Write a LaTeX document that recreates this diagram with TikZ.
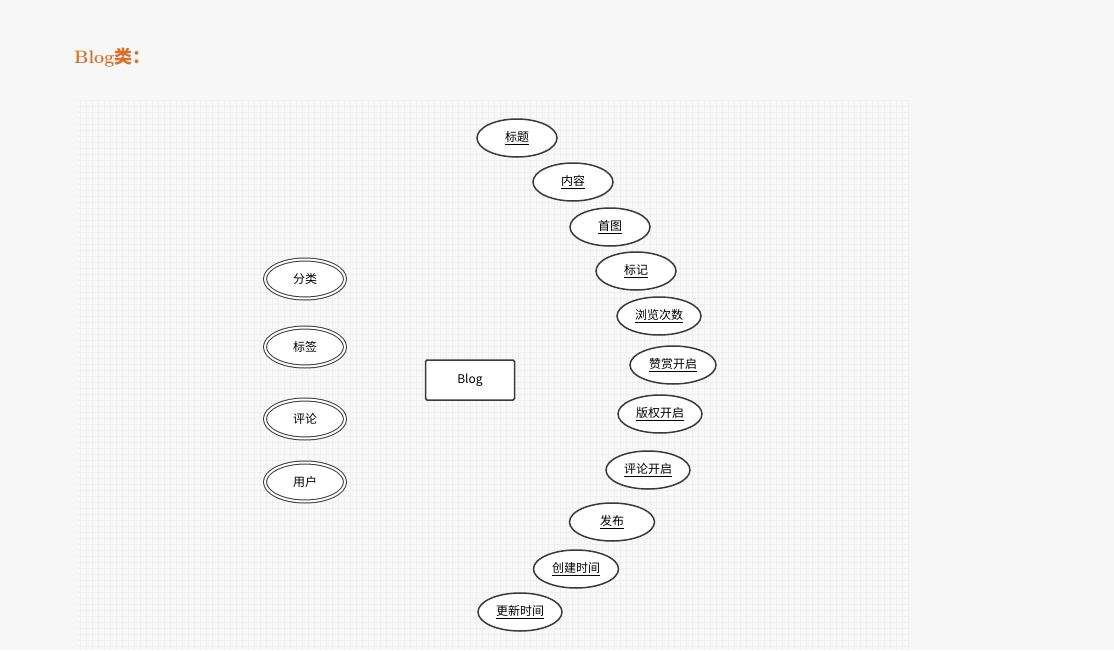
\documentclass[tikz,border=0pt]{standalone}
\usepackage{fontspec}
\newfontfamily\cjk{Noto Sans CJK SC}
\usetikzlibrary{shapes.geometric}
\definecolor{pagebg}{HTML}{F7F7F7}
\definecolor{gridbg}{HTML}{F9F9F9}
\definecolor{gridline}{HTML}{EFEFEF}
\definecolor{titleorange}{HTML}{D9712B}
\definecolor{shapeline}{HTML}{3A3A3A}
\begin{document}
\begin{tikzpicture}[x=1pt, y=-1pt,
  attr/.style={ellipse, draw=shapeline, line width=1.5pt, fill=white,
    minimum width=80pt, minimum height=38pt, inner sep=0pt,
    font=\cjk\fontsize{12}{14}\selectfont},
  multi/.style={ellipse, draw=shapeline, double=white, double distance=2pt,
    line width=1pt, fill=white, minimum width=80pt, minimum height=39pt,
    inner sep=0pt, font=\cjk\fontsize{12}{14}\selectfont},
  entity/.style={rectangle, rounded corners=1.5pt, draw=shapeline, line width=1.5pt,
    fill=white, minimum width=89pt, minimum height=40pt,
    font=\cjk\fontsize{12}{14}\selectfont}]
  % page and canvas
  \fill[pagebg] (0,0) rectangle (1114,650);
  \fill[gridbg] (78,100) rectangle (910,650);
  \foreach \gx in {80,86,...,908}
    \draw[gridline, line width=0.4pt] (\gx,100) -- (\gx,650);
  \foreach \gy in {100,106,...,650}
    \draw[gridline, line width=0.4pt] (78,\gy) -- (910,\gy);

  % title
  \node[anchor=west, text=titleorange, font=\fontsize{18}{21}\selectfont\bfseries,
    inner sep=0pt] (title) at (74,58) {Blog{\cjk 类：}};

  % entity
  \node[entity] (blog) at (470,380) {Blog};

  % related entities
  \node[multi] (category) at (305,279) {分类};
  \node[multi] (tag) at (305,347) {标签};
  \node[multi] (comment) at (305,419) {评论};
  \node[multi] (user) at (305,482) {用户};

  % attributes
  \node[attr] (head) at (517,138) {\underline{标题}};
  \node[attr] (content) at (573,182) {\underline{内容}};
  \node[attr] (picture) at (610,227) {\underline{首图}};
  \node[attr] (flag) at (636,271) {\underline{标记}};
  \node[attr, minimum width=84pt] (views) at (659,316) {\underline{浏览次数}};
  \node[attr, minimum width=86pt] (appreciation) at (673,365) {\underline{赞赏开启}};
  \node[attr, minimum width=84pt] (copyright) at (660,414) {\underline{版权开启}};
  \node[attr, minimum width=84pt] (commentable) at (648,470) {\underline{评论开启}};
  \node[attr, minimum width=85pt] (published) at (612,522) {\underline{发布}};
  \node[attr, minimum width=85pt] (created) at (576,569) {\underline{创建时间}};
  \node[attr, minimum width=84pt] (updated) at (520,612) {\underline{更新时间}};
\end{tikzpicture}
\end{document}
